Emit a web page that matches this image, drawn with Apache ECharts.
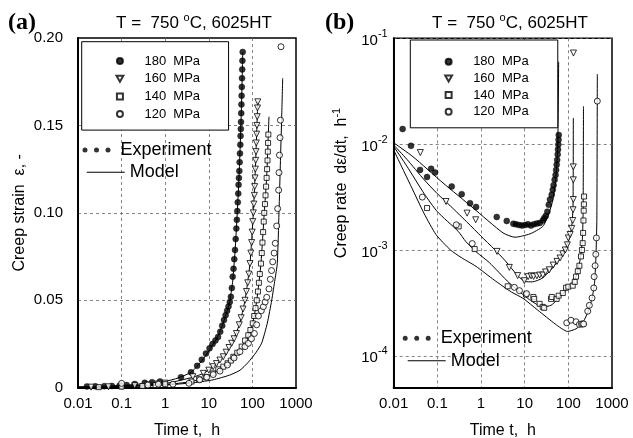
<!DOCTYPE html>
<html><head><meta charset="utf-8">
<script src="https://cdn.jsdelivr.net/npm/echarts@6/dist/echarts.min.js"></script>
<style>html,body{margin:0;padding:0;background:#fff}#c{width:633px;height:438px}</style>
</head><body><div id="c"></div>
<script>
// ---------- tick labels ----------
const xTickLabels = ['0.01', '0.1', '1', '10', '100', '1000'];   // 10^-2 .. 10^3
const yTickLabelsA = ['0', '0.05', '0.10', '0.15', '0.20'];
const stressNames = ['180 MPa', '160 MPa', '140 MPa', '120 MPa'];

// ---------- (a) creep strain vs time : experiment ----------
const strain180 = [[0.016,0.0007],[0.025,0.0008],[0.04,0.0009],[0.06,0.001],[0.09,0.0012],[0.13,0.0015],[0.2,0.0021],[0.34,0.0028],[0.5,0.0031],[0.76,0.0036],[2.3,0.006],[3.9,0.0088],[5.4,0.0125],[6.9,0.016],[8.6,0.0195],[10.4,0.0225],[12.2,0.025],[14.2,0.027],[16.3,0.029],[18.3,0.032],[20.3,0.0355],[22.3,0.0387],[24.3,0.0415],[26.3,0.044],[28.3,0.0465],[30.3,0.049],[32.1,0.052],[33.8,0.057],[35.3,0.0635],[36.9,0.068],[38.4,0.0735],[39.9,0.0788],[41.4,0.085],[42.8,0.091],[44,0.096],[45.1,0.101],[46.2,0.106],[47.3,0.111],[48.2,0.116],[49.1,0.12],[50.1,0.124],[51,0.129],[51.9,0.134],[52.8,0.139],[53.6,0.144],[54.3,0.148],[54.8,0.152],[55.4,0.157],[56,0.162],[56.6,0.167],[57.2,0.172],[57.8,0.177],[58.4,0.182],[59,0.187],[59.9,0.192]];
const strain160 = [[0.02,0.0003],[0.05,0.0005],[0.1,0.0008],[0.2,0.0012],[0.4,0.0017],[0.7,0.0022],[1,0.0026],[4.3,0.0063],[7.5,0.0082],[10,0.01],[12.6,0.012],[15,0.0138],[18,0.0158],[21.5,0.0177],[25,0.0203],[29,0.023],[33.5,0.0254],[38,0.028],[43,0.031],[50,0.036],[55,0.04],[61,0.045],[67.6,0.05],[73,0.055],[78,0.06],[83,0.065],[88,0.071],[92,0.077],[96,0.083],[99,0.089],[102,0.095],[105,0.1],[108,0.105],[111,0.11],[113,0.115],[115,0.12],[117,0.125],[119,0.13],[121,0.135],[123,0.14],[125,0.145],[127,0.15],[129,0.155],[131,0.16],[133,0.1635]];
const strain140 = [[0.03,0.0003],[0.1,0.0006],[0.3,0.001],[0.6,0.0015],[1,0.002],[4,0.0035],[6,0.0048],[8.5,0.006],[12.6,0.0082],[16.5,0.0105],[21.5,0.012],[27,0.014],[32,0.0155],[36.5,0.0177],[45,0.02],[56.8,0.0235],[68,0.027],[80.5,0.03],[90,0.033],[102,0.0368],[110,0.041],[118,0.0455],[126,0.05],[134,0.055],[141,0.06],[148,0.065],[157,0.071],[164,0.077],[170,0.083],[176,0.089],[182,0.095],[187,0.1],[194,0.105],[200,0.11],[206,0.115],[212,0.12],[217,0.125],[222,0.13],[226,0.135],[229,0.14],[232,0.1448]];
const strain120 = [[0.1,0.0025],[0.4,0.0015],[0.7,0.002],[1.5,0.002],[3.5,0.0025],[6.2,0.0045],[9,0.006],[12.6,0.0075],[18,0.0095],[26.7,0.013],[38,0.017],[51.8,0.0206],[67.6,0.0235],[81,0.0254],[95,0.028],[111,0.031],[125,0.036],[137,0.041],[160,0.044],[178,0.0463],[196,0.049],[213,0.0517],[240,0.0565],[258,0.062],[275,0.067],[292,0.072],[315,0.077],[335,0.0826],[361,0.0925],[380,0.1024],[400,0.113],[407,0.123],[418,0.133],[430,0.143],[440,0.153],[453,0.195]];

// ---------- (a) model ----------
const modelStrain180 = [[0.01,0.0004],[0.1,0.0013],[0.5,0.0027],[1,0.0036],[2,0.0056],[4,0.009],[7,0.0155],[10,0.021],[15,0.028],[20,0.035],[25,0.042],[30,0.049],[35,0.06],[40,0.078],[45,0.1],[50,0.124],[55,0.153],[58,0.175],[60,0.192]];
const modelStrain160 = [[0.01,0.0003],[0.1,0.0009],[1,0.0024],[4.3,0.006],[7.5,0.0082],[12.6,0.012],[21.5,0.0177],[33.5,0.0254],[50,0.036],[67.6,0.05],[88,0.071],[105,0.1],[117,0.125],[127,0.15],[133,0.164]];
const modelStrain140 = [[0.01,0.0003],[0.1,0.0007],[1,0.0018],[4,0.0035],[8.5,0.006],[16.5,0.0105],[27,0.014],[36.5,0.0177],[56.8,0.0235],[80.5,0.03],[102,0.0368],[126,0.05],[157,0.071],[187,0.1],[212,0.12],[232,0.145],[240,0.155]];
const modelStrain120 = [[0.01,0.0002],[0.1,0.0006],[1,0.0015],[5,0.003],[12.5,0.0045],[30,0.0072],[52,0.01],[80,0.0145],[120,0.02],[163,0.0255],[220,0.037],[277,0.05],[330,0.062],[372,0.071],[407,0.1],[440,0.13],[470,0.155],[495,0.177]];

// ---------- (b) creep rate vs time : experiment ----------
const rate180 = [[0.016,0.0139],[0.0249,0.00964],[0.0401,0.00571],[0.058,0.00489],[0.072,0.00585],[0.089,0.0054],[0.213,0.00398],[0.361,0.00337],[0.56,0.00277],[0.769,0.00255],[2.29,0.00205],[3.88,0.00188],[5.5,0.00177],[6.3,0.00175],[7.4,0.00172],[8.7,0.0017],[10.2,0.00172],[11.9,0.00175],[13.9,0.0017],[16.2,0.00175],[19,0.00178],[22.2,0.0018],[26,0.0019],[28,0.002],[30.4,0.0021],[33,0.0023],[35.6,0.00267],[38,0.003],[41.6,0.00333],[44,0.0037],[46,0.0041],[48.5,0.0046],[51,0.0051],[52.5,0.0057],[54,0.0064],[55.5,0.0071],[57,0.008],[58,0.0089],[59,0.0099],[59.7,0.011],[60.3,0.0122]];
const rate160 = [[0.0407,0.00833],[0.158,0.00287],[0.48,0.00223],[0.755,0.00193],[2.32,0.00097],[4.45,0.000685],[6.9,0.000573],[9.8,0.000513],[12,0.00056],[14,0.00057],[16,0.000563],[19,0.00057],[22,0.00058],[26,0.00058],[30,0.00062],[36.7,0.00065],[45,0.00072],[55,0.00078],[64.6,0.00084],[74.5,0.00092],[85,0.001],[95,0.00112],[100,0.0013],[110,0.0014],[120,0.0016],[126,0.0019],[128,0.0024],[130,0.003],[130,0.0046],[130,0.0061],[131,0.0726]];
const rate140 = [[0.058,0.00249],[0.308,0.00167],[0.716,0.00102],[4.09,0.000454],[10.7,0.00038],[15.8,0.00036],[16.5,0.000345],[22,0.00031],[25.9,0.00029],[28,0.000284],[40.2,0.000345],[41.7,0.00036],[53.9,0.000345],[60,0.00037],[74.6,0.000392],[88.6,0.00044],[100,0.00045],[126,0.00046],[140,0.0005],[150,0.00056],[165,0.00063],[179,0.00071],[195,0.00087],[205,0.001],[213,0.00116],[218,0.00145],[222,0.0019],[225,0.00235],[227,0.0027],[229,0.0032]];
const rate120 = [[0.0452,0.00316],[0.272,0.00173],[0.63,0.00115],[5.8,0.000444],[7.6,0.000413],[11.1,0.000387],[92,0.000205],[115,0.000217],[150,0.00021],[179,0.000198],[200,0.0002],[213,0.0002],[225,0.0002],[278,0.000264],[303,0.0003],[349,0.000352],[382,0.000438],[390,0.00056],[410,0.00071],[425,0.00091],[440,0.0013],[461,0.0255]];

// ---------- (b) model ----------
const modelRate180 = [[0.01,0.0103],[0.0277,0.0076],[0.1346,0.0043],[0.656,0.0025],[3.19,0.00145],[6,0.00132],[13.2,0.00142],[26,0.00167],[35.6,0.0022],[44.5,0.003],[51,0.0046],[57,0.0088],[60,0.06]];
const modelRate160 = [[0.01,0.0098],[0.02,0.0072],[0.05,0.0046],[0.1,0.0034],[0.2,0.0026],[0.5,0.0018],[1,0.00135],[2,0.00102],[3.5,0.0008],[5,0.00067],[7,0.00057],[10,0.000505],[15,0.0005],[25,0.00054],[40,0.00065],[65,0.00084],[100,0.0012],[120,0.0017],[128,0.0026],[130,0.0177]];
const modelRate140 = [[0.01,0.0095],[0.02,0.0062],[0.05,0.0034],[0.1,0.0023],[0.3,0.0015],[0.45,0.0012],[0.8,0.00095],[1.55,0.00076],[4.4,0.00049],[12.8,0.00034],[26,0.00029],[40,0.0003],[60,0.00035],[100,0.00044],[150,0.00056],[190,0.00085],[210,0.0013],[218,0.0023],[222,0.0228]];
const modelRate120 = [[0.01,0.0088],[0.015,0.0062],[0.025,0.004],[0.05,0.0022],[0.093,0.0014],[0.2,0.001],[0.35,0.00085],[0.77,0.0007],[2,0.00052],[5,0.0004],[9.1,0.00035],[20,0.00027],[50,0.0002],[96,0.00017],[150,0.00018],[220,0.00021],[280,0.00026],[350,0.00035],[400,0.0005],[430,0.0009],[450,0.002],[461,0.046]];

// ---------- build chart ----------
const FONT = 'Liberation Sans, Arial, Helvetica, sans-serif';
const symbols = [
  {symbol: 'circle', size: 6, filled: true, rotate: 0},
  {symbol: 'triangle', size: 6, filled: false, rotate: 180},
  {symbol: 'rect', size: 5, filled: false, rotate: 0},
  {symbol: 'circle', size: 6, filled: false, rotate: 0}
];
// legend icons drawn in the same shapes as the series symbols
const legendIcons = ['circle', 'path://M0,0L8,0L4,7Z', 'path://M0,0H6V6H0Z', 'circle'];
const expA = [strain180, strain160, strain140, strain120];
const modA = [modelStrain180, modelStrain160, modelStrain140, modelStrain120];
const expB = [rate180, rate160, rate140, rate120];
const modB = [modelRate180, modelRate160, modelRate140, modelRate120];

function scatter(name, data, gi, s) {
  return {
    type: 'scatter', name, data, xAxisIndex: gi, yAxisIndex: gi,
    symbol: s.symbol, symbolSize: s.size, symbolRotate: s.rotate,
    itemStyle: s.filled ? {color: '#000', borderColor: '#000', borderWidth: 0.5}
                        : {color: '#fff', borderColor: '#000', borderWidth: 1},
    z: 4, silent: true
  };
}
function model(data, gi) {
  return {
    type: 'line', name: 'Model', data, xAxisIndex: gi, yAxisIndex: gi,
    symbol: 'none', showSymbol: false, smooth: 0.2,
    lineStyle: {color: '#000', width: 1}, itemStyle: {color: '#000'},
    z: 3, silent: true
  };
}
const series = [];
for (let g = 0; g < 2; g++) {
  const mods = g === 0 ? modA : modB;
  const exps = g === 0 ? expA : expB;
  mods.forEach(d => series.push(model(d, g)));
  exps.forEach((d, i) => series.push(scatter(stressNames[i], d, g, symbols[i])));
}
// empty series only used as the legend entry "Experiment"
series.push({type: 'scatter', name: 'Experiment', data: [], xAxisIndex: 0, yAxisIndex: 0, itemStyle: {color: '#000'}});

const dotsIcon = 'path://M0,2.5A2.5,2.5,0,1,0,5,2.5A2.5,2.5,0,1,0,0,2.5ZM11.5,2.5A2.5,2.5,0,1,0,16.5,2.5A2.5,2.5,0,1,0,11.5,2.5ZM23,2.5A2.5,2.5,0,1,0,28,2.5A2.5,2.5,0,1,0,23,2.5Z';
const lineIcon = 'path://M0,0H38V1.1H0Z';

const gridLine = {show: true, showMinLine: false, showMaxLine: false, lineStyle: {color: '#666', type: [3, 3], width: 0.8}};
const axisLine = {show: true, lineStyle: {color: '#000', width: 2}};

function xAxis(gi) {
  return {
    type: 'log', logBase: 10, gridIndex: gi, min: 0.01, max: 1000,
    name: 'Time t,  h', nameLocation: 'middle', nameGap: 35,
    nameTextStyle: {fontSize: 16, color: '#000', fontFamily: FONT},
    axisLine, axisTick: {show: false}, splitLine: gridLine,
    axisLabel: {
      fontSize: 15, color: '#000', fontFamily: FONT, margin: 9,
      formatter: v => xTickLabels[Math.round(Math.log10(v)) + 2]
    }
  };
}

const supRich = {
  b: {fontSize: 15, fontFamily: FONT, color: '#000', lineHeight: 20, verticalAlign: 'bottom'},
  s: {fontSize: 11, fontFamily: FONT, color: '#000', verticalAlign: 'top'}
};
const titleText = '{t|T =  750 }{s|o}{t|C, 6025HT}';
function titleGraphic(x) {
  return {
    type: 'text', x, y: 22, silent: true, z: 10,
    style: {
      text: titleText, align: 'center', verticalAlign: 'middle',
      font: '17px Liberation Sans', fill: '#000',
      rich: {
        t: {font: '17px Liberation Sans', fill: '#000', lineHeight: 19, verticalAlign: 'bottom'},
        s: {font: '11px Liberation Sans', fill: '#000', lineHeight: 11, verticalAlign: 'top'}
      }
    }
  };
}

function mpaLegend(left, top, padL, padT, gap, padR) {
  return {
    data: stressNames.map((n, i) => ({name: n, icon: legendIcons[i]})),
    left, top, orient: 'vertical', selectedMode: false, symbolKeepAspect: true,
    itemWidth: 7, itemHeight: 6, itemGap: gap, padding: [padT, padR, 9.5, padL],
    borderColor: '#000', borderWidth: 1, backgroundColor: '#fff',
    formatter: n => n.replace(' ', '  '),
    textStyle: {fontSize: 13, color: '#000', fontFamily: FONT, padding: [0, 0, 0, 16]}
  };
}
function keyLegend(name, icon, left, top, h) {
  return {
    data: [{name, icon}], left, top, padding: 0, selectedMode: false, symbolKeepAspect: true,
    itemWidth: 38, itemHeight: h, textStyle: {fontSize: 18, color: '#000', fontFamily: FONT}
  };
}

const option = {
  animation: false,
  backgroundColor: '#fff',
  textStyle: {fontFamily: FONT, color: '#000'},
  title: [
    {text: '(a)', left: 8, top: 11, padding: 0,
     textStyle: {fontSize: 24, fontWeight: 'bold', color: '#000', fontFamily: 'Liberation Serif, Times New Roman, serif'}},
    {text: '(b)', left: 325, top: 11, padding: 0,
     textStyle: {fontSize: 24, fontWeight: 'bold', color: '#000', fontFamily: 'Liberation Serif, Times New Roman, serif'}}
  ],
  graphic: [titleGraphic(194), titleGraphic(510)],
  grid: [
    {left: 78, top: 38, width: 218, height: 349.7, show: true, borderColor: '#000', borderWidth: 1.5,
     backgroundColor: 'transparent', containLabel: false, outerBoundsMode: 'none'},
    {left: 393.7, top: 38.3, width: 218.3, height: 349.4, show: true, borderColor: '#000', borderWidth: 1.5,
     backgroundColor: 'transparent', containLabel: false, outerBoundsMode: 'none'}
  ],
  xAxis: [xAxis(0), xAxis(1)],
  yAxis: [
    {
      type: 'value', gridIndex: 0, min: 0, max: 0.2, interval: 0.05,
      name: 'Creep strain  ε, -', nameLocation: 'middle', nameGap: 50, nameRotate: 90,
      nameTextStyle: {fontSize: 16, color: '#000', fontFamily: FONT},
      axisLine, axisTick: {show: false}, splitLine: gridLine,
      axisLabel: {fontSize: 15, color: '#000', fontFamily: FONT, margin: 15,
        formatter: v => yTickLabelsA[Math.round(v / 0.05)]}
    },
    {
      type: 'log', logBase: 10, gridIndex: 1, min: 5e-5, max: 0.1,
      name: '{t|Creep rate  dε/dt,  h}{s|-1}', nameLocation: 'middle', nameGap: 44, nameRotate: 90,
      nameTextStyle: {fontSize: 16, color: '#000', fontFamily: FONT, padding: [0, 0, 0, 60],
        rich: {
          t: {fontSize: 16, fontFamily: FONT, color: '#000', lineHeight: 18, verticalAlign: 'bottom'},
          s: {fontSize: 11, fontFamily: FONT, color: '#000', verticalAlign: 'top', lineHeight: 11}
        }},
      axisLine, axisTick: {show: false}, splitLine: gridLine,
      axisLabel: {margin: 6, showMinLabel: false, rich: supRich,
        formatter: v => '{b|10}{s|' + Math.round(Math.log10(v)) + '}'}
    }
  ],
  legend: [
    mpaLegend(81.7, 41.7, 33.8, 12.8, 4.7, 28.5),
    mpaLegend(410.3, 40, 33.9, 15.2, 3.7, 29),
    keyLegend('Experiment', dotsIcon, 82.5, 141, 5),
    keyLegend('Model', lineIcon, 86.7, 163.3, 1.1),
    keyLegend('Experiment', dotsIcon, 402.7, 329.3, 5),
    keyLegend('Model', lineIcon, 407.7, 351.7, 1.1)
  ],
  series
};

const chart = echarts.init(document.getElementById('c'), null, {renderer: 'canvas'});
chart.setOption(option);
</script>
</body></html>
